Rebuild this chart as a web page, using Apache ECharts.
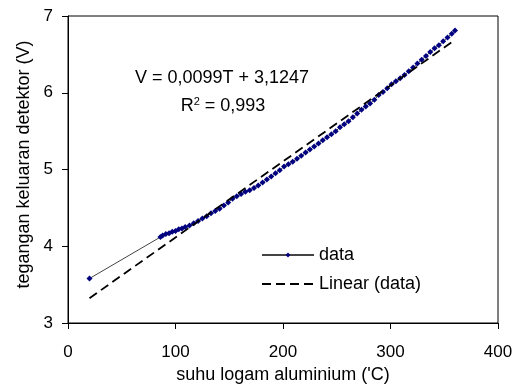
<!DOCTYPE html>
<html>
<head>
<meta charset="utf-8">
<script src="https://cdn.jsdelivr.net/npm/echarts@6/dist/echarts.min.js"></script>
<style>
html,body{margin:0;padding:0;background:#fff;}
#c{width:523px;height:392px;}
</style>
</head>
<body>
<div id="c"></div>
<script>
const xTicksMin = 0, xTicksMax = 400, xTickStep = 100;
const yTicksMin = 3, yTicksMax = 7, yTickStep = 1;

const tempC = [20, 86, 88, 91, 94, 97, 100, 103, 106, 109,
  113, 117, 121, 125, 129, 133, 137, 141, 145, 149,
  153, 157, 161, 165, 169, 173, 177, 181, 185, 189,
  193, 197, 201, 205, 209, 213, 217, 221, 225, 229,
  233, 237, 241, 245, 249, 253, 257, 261, 265, 269,
  273, 277, 281, 285, 289, 293, 297, 301, 305, 309,
  313, 317, 321, 325, 329, 333, 337, 341, 345, 349,
  353, 357, 360];
const voltV = [3.58, 4.12, 4.14, 4.16, 4.17, 4.19, 4.20, 4.22, 4.23, 4.25,
  4.27, 4.30, 4.33, 4.36, 4.39, 4.43, 4.46, 4.49, 4.53, 4.57,
  4.62, 4.65, 4.68, 4.71, 4.73, 4.76, 4.79, 4.83, 4.87, 4.91,
  4.95, 4.99, 5.04, 5.07, 5.10, 5.14, 5.18, 5.22, 5.26, 5.30,
  5.34, 5.38, 5.42, 5.46, 5.50, 5.55, 5.59, 5.63, 5.68, 5.73,
  5.78, 5.82, 5.86, 5.91, 5.97, 6.01, 6.06, 6.11, 6.15, 6.19,
  6.23, 6.28, 6.33, 6.38, 6.43, 6.48, 6.53, 6.58, 6.62, 6.67,
  6.72, 6.77, 6.81];

const trendX = [20, 360];
const trendY = [3.323, 6.689];

const seriesNames = ['data', 'Linear (data)'];
const eqLine1 = 'V = 0,0099T + 3,1247';
const eqLine2R = 'R';
const eqLine2Sup = '2';
const eqLine2Rest = ' = 0,993';
const xTitle = "suhu logam aluminium ('C)";
const yTitle = 'tegangan keluaran detektor (V)';

const FONT = '"Liberation Sans", Arial, sans-serif';

const chart = echarts.init(document.getElementById('c'), null, {renderer: 'canvas'});
chart.setOption({
  animation: false,
  backgroundColor: '#fff',
  grid: {left: 68, right: 25, top: 16, bottom: 69, show: true, borderColor: '#000', borderWidth: 1, backgroundColor: 'transparent'},
  xAxis: {
    type: 'value', min: xTicksMin, max: xTicksMax, interval: xTickStep,
    name: xTitle, nameLocation: 'middle', nameGap: 43,
    nameTextStyle: {fontFamily: FONT, fontSize: 18, color: '#000'},
    axisLine: {show: true, lineStyle: {color: '#000', width: 1}},
    axisTick: {show: true, inside: false, length: 6, lineStyle: {color: '#000'}},
    axisLabel: {margin: 21, fontFamily: FONT, fontSize: 17, color: '#000'},
    splitLine: {show: false}
  },
  yAxis: {
    type: 'value', min: yTicksMin, max: yTicksMax, interval: yTickStep,
    name: yTitle, nameLocation: 'middle', nameGap: 33, nameRotate: 90,
    nameTextStyle: {fontFamily: FONT, fontSize: 18, color: '#000', padding: [0, 0, 0, 10]},
    axisLine: {show: true, lineStyle: {color: '#000', width: 1}},
    axisTick: {show: true, inside: false, length: 6, lineStyle: {color: '#000'}},
    axisLabel: {margin: 15, fontFamily: FONT, fontSize: 17, color: '#000'},
    splitLine: {show: false}
  },
  legend: {
    orient: 'vertical', left: 261, top: 246, padding: 0,
    itemWidth: 52, itemHeight: 6, itemGap: 11,
    textStyle: {fontFamily: FONT, fontSize: 18, color: '#000'},
    data: [
      {name: seriesNames[0]},
      {name: seriesNames[1], itemStyle: {color: 'rgba(0,0,0,0)', borderWidth: 0, opacity: 0}}
    ]
  },
  graphic: [
    {type: 'text', x: 222, y: 78, style: {text: eqLine1, font: '18px ' + FONT, fill: '#000', textAlign: 'center', textVerticalAlign: 'middle'}},
    {type: 'text', x: 223, y: 106, style: {
      text: '{a|' + eqLine2R + '}{s|' + eqLine2Sup + '}{a|' + eqLine2Rest + '}',
      textAlign: 'center', textVerticalAlign: 'middle',
      rich: {a: {fontFamily: FONT, fontSize: 18, color: '#000'}, s: {fontFamily: FONT, fontSize: 11, color: '#000', verticalAlign: 'top', padding: [0,0,8,0]}}
    }}
  ],
  series: [
    {
      name: seriesNames[0], type: 'line',
      data: tempC.map((t, i) => [t, voltV[i]]),
      symbol: 'diamond', symbolSize: [6, 6], showSymbol: true,
      itemStyle: {color: '#000080'},
      lineStyle: {color: '#444', width: 1},
      z: 2
    },
    {
      name: seriesNames[1], type: 'line',
      data: trendX.map((t, i) => [t, trendY[i]]),
      symbol: 'none',
      itemStyle: {color: '#000'},
      lineStyle: {color: '#000', width: 1.8, type: [9, 5]},
      z: 3
    }
  ]
});
</script>
</body>
</html>
